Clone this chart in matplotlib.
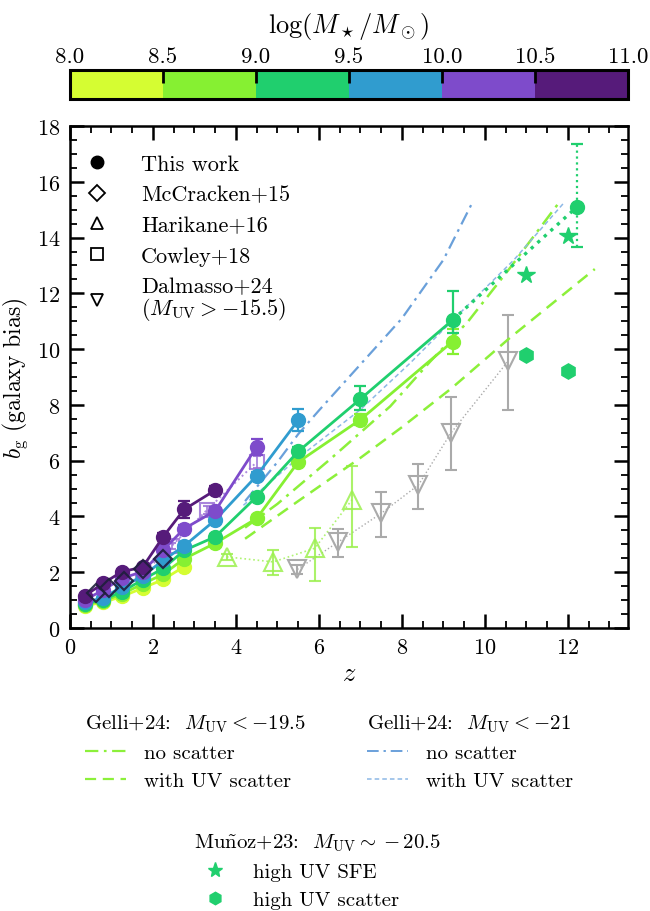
import matplotlib

matplotlib.use("Agg")
import matplotlib.pyplot as plt
import numpy as np
from matplotlib.colors import BoundaryNorm, ListedColormap
from matplotlib.lines import Line2D
from matplotlib.ticker import MultipleLocator
import matplotlib.colorbar as mcolorbar


# stellar-mass bins and their colours
MASS_EDGES = [8.0, 8.5, 9.0, 9.5, 10.0, 10.5, 11.0]
BIN_COLORS = ["#d5fd32", "#86f032", "#20cf6e", "#309ccf", "#7e4bcb", "#561b7a"]

# this work: bias per mass bin on a common redshift grid
Z_GRID = [0.35, 0.8, 1.25, 1.75, 2.25, 2.75, 3.5, 4.5, 5.5, 7.0, 9.22]
B_80 = [0.80, 0.92, 1.13, 1.43, 1.74, 2.20]
E_80 = [0.03, 0.03, 0.04, 0.05, 0.06, 0.08]
B_85 = [0.84, 0.97, 1.22, 1.58, 1.93, 2.48, 3.04, 3.93, 5.95, 7.47, 10.27]
E_85 = [0.03, 0.03, 0.04, 0.05, 0.06, 0.08, 0.10, 0.12, 0.15, 0.20, 0.45]
B_90 = [0.87, 1.02, 1.30, 1.73, 2.14, 2.78, 3.27, 4.71, 6.33, 8.21, 11.04]
E_90_LO = [0.03, 0.03, 0.04, 0.05, 0.06, 0.08, 0.10, 0.12, 0.15, 0.38, 0.45]
E_90_HI = [0.03, 0.03, 0.04, 0.05, 0.06, 0.08, 0.10, 0.12, 0.15, 0.48, 1.05]
B_95 = [0.92, 1.08, 1.48, 1.86, 2.43, 2.94, 3.87, 5.46, 7.45]
E_95 = [0.03, 0.04, 0.05, 0.06, 0.07, 0.09, 0.12, 0.15, 0.40]
B_100 = [1.00, 1.36, 1.78, 2.02, 2.80, 3.56, 4.20, 6.50]
E_100 = [0.04, 0.05, 0.06, 0.07, 0.09, 0.12, 0.15, 0.28]
B_105 = [1.15, 1.60, 2.02, 2.18, 3.28, 4.25, 4.94]
E_105 = [0.05, 0.06, 0.07, 0.08, 0.12, 0.32, 0.14]

# highest-redshift point of the 9.0-9.5 bin
Z_TOP = [9.22, 12.22]
B_TOP = [11.04, 15.10]
E_TOP_LO = 1.43
E_TOP_HI = 2.25

# literature measurements
Z_MCC = [0.63, 0.95, 1.30, 1.75, 2.25]
B_MCC = [1.24, 1.45, 1.69, 2.10, 2.46]

Z_HAR = [3.78, 4.90, 5.90, 6.80]
B_HAR = [2.55, 2.37, 2.86, 4.60]
E_HAR_LO = [0.10, 0.47, 1.18, 1.69]
E_HAR_HI = [0.10, 0.42, 0.71, 1.22]

Z_COW = [1.75, 2.45, 3.30, 4.50]
B_COW = [1.94, 2.94, 4.23, 5.95]
E_COW = [0.08, 0.10, 0.14, 0.20]

Z_DAL = [5.48, 6.47, 7.50, 8.40, 9.18, 10.56]
B_DAL = [2.10, 3.09, 4.11, 5.13, 6.99, 9.57]
E_DAL_LO = [0.15, 0.54, 0.84, 0.87, 1.34, 1.74]
E_DAL_HI = [0.15, 0.45, 0.77, 0.76, 1.30, 1.64]

# model predictions
Z_G195_NS = [4.22, 5.0, 6.27, 7.72, 8.68, 9.6, 10.6, 11.76]
B_G195_NS = [3.60, 4.45, 6.05, 7.95, 9.55, 11.0, 12.9, 15.2]
Z_G195_SC = [4.22, 5.5, 7.0, 8.0, 9.2, 10.6, 12.65]
B_G195_SC = [3.20, 4.55, 6.10, 7.20, 8.60, 10.40, 12.87]
Z_G21_NS = [4.22, 5.0, 5.5, 6.0, 7.0, 8.0, 9.0, 9.67]
B_G21_NS = [4.55, 5.95, 6.95, 7.80, 9.45, 11.10, 13.20, 15.17]
Z_G21_SC = [4.18, 5.5, 7.0, 8.2, 9.41, 10.7, 11.92]
B_G21_SC = [4.40, 6.10, 7.83, 9.50, 11.31, 13.20, 15.27]

Z_MUN = [11.0, 12.0]
B_MUN_SFE = [12.65, 14.05]
B_MUN_SCAT = [9.80, 9.20]

GREEN_MODEL = "#8cf03a"
BLUE_MODEL = "#6aa0da"
BLUE_LIGHT = "#8db8e6"
GREY = "#aaaaaa"
DASHDOT = (0, (6, 2.5, 1.2, 2.5))

plt.rcParams.update(
    {
        "font.family": "serif",
        "font.serif": ["cmr10", "DejaVu Serif"],
        "mathtext.fontset": "cm",
        "axes.formatter.use_mathtext": True,
        "font.size": 16,
        "axes.linewidth": 1.8,
    }
)

fig = plt.figure(figsize=(6.5, 9.12), dpi=100)
ax = fig.add_axes([70 / 650, 283 / 912, 558 / 650, 502 / 912])
cax = fig.add_axes([70 / 650, 812 / 912, 558 / 650, 29 / 912])

# colour bar
cmap = ListedColormap(BIN_COLORS)
norm = BoundaryNorm(MASS_EDGES, cmap.N)
cb = mcolorbar.ColorbarBase(cax, cmap=cmap, norm=norm, orientation="horizontal", ticks=MASS_EDGES)
cb.outline.set_linewidth(2.2)
cax.xaxis.set_ticks_position("top")
cax.xaxis.set_label_position("top")
cax.tick_params(axis="x", direction="in", length=9, width=2.0, labelsize=16.5, pad=3)
cax.set_xticklabels([f"{m:.1f}" for m in MASS_EDGES])
cax.set_xlabel(r"$\log(M_\star/M_\odot)$", fontsize=19, labelpad=10)

# this work
bins = [
    (B_80, E_80, E_80),
    (B_85, E_85, E_85),
    (B_90, E_90_LO, E_90_HI),
    (B_95, E_95, E_95),
    (B_100, E_100, E_100),
    (B_105, E_105, E_105),
]
for color, (b, lo, hi) in zip(BIN_COLORS, bins):
    z = Z_GRID[: len(b)]
    ax.errorbar(
        z, b, yerr=[lo, hi], color=color, marker="o", ms=10, lw=2.0,
        elinewidth=1.6, capsize=4, capthick=1.6, zorder=5,
    )
top = ax.errorbar(
    Z_TOP[1:], B_TOP[1:], yerr=[[E_TOP_LO], [E_TOP_HI]], color=BIN_COLORS[2], marker="o",
    ms=10, ls="none", elinewidth=1.6, capsize=4, capthick=1.6, zorder=5,
)
top[2][0].set_linestyle(":")
ax.plot(Z_TOP, B_TOP, color=BIN_COLORS[2], ls=":", lw=2.4, zorder=4)

# literature
ax.plot(Z_MCC, B_MCC, ls="none", marker="D", ms=9, mfc="none", mec="#1e1e3c", mew=1.6, alpha=0.9, zorder=6)

har_c = "#9cf050"
ax.plot(Z_HAR, B_HAR, color=har_c, ls=":", lw=1.2, alpha=0.8, zorder=3)
ax.errorbar(
    Z_HAR, B_HAR, yerr=[E_HAR_LO, E_HAR_HI], ls="none", marker="^", ms=13, mfc="none",
    mec=har_c, mew=1.5, color=har_c, elinewidth=1.5, capsize=4, capthick=1.5, alpha=0.85, zorder=3,
)

cow_c = "#9a6fd6"
ax.plot(Z_COW, B_COW, color=cow_c, ls=":", lw=1.4, alpha=0.8, zorder=4)
ax.errorbar(
    Z_COW, B_COW, yerr=E_COW, ls="none", marker="s", ms=10, mfc="none", mec=cow_c, mew=1.5,
    color=cow_c, elinewidth=1.3, capsize=3, alpha=0.85, zorder=4,
)

ax.plot(Z_DAL, B_DAL, color=GREY, ls=":", lw=1.0, zorder=2)
ax.errorbar(
    Z_DAL, B_DAL, yerr=[E_DAL_LO, E_DAL_HI], ls="none", marker="v", ms=13, mfc="none",
    mec=GREY, mew=1.5, color=GREY, elinewidth=1.5, capsize=4, capthick=1.5, zorder=2,
)

# models
ax.plot(Z_G195_NS, B_G195_NS, color=GREEN_MODEL, ls=DASHDOT, lw=1.8, zorder=3)
ax.plot(Z_G195_SC, B_G195_SC, color=GREEN_MODEL, ls=(0, (5, 3)), lw=1.8, zorder=3)
ax.plot(Z_G21_NS, B_G21_NS, color=BLUE_MODEL, ls=DASHDOT, lw=1.6, zorder=3)
ax.plot(Z_G21_SC, B_G21_SC, color=BLUE_LIGHT, ls=(0, (3, 2)), lw=1.1, zorder=3)

ax.plot(Z_MUN, B_MUN_SFE, ls="none", marker="*", ms=13, color=BIN_COLORS[2], zorder=5)
ax.plot(Z_MUN, B_MUN_SCAT, ls="none", marker="h", ms=11, color=BIN_COLORS[2], zorder=5)

ax.set_xlim(0, 13.45)
ax.set_ylim(0, 18)
ax.xaxis.set_major_locator(MultipleLocator(2))
ax.xaxis.set_minor_locator(MultipleLocator(0.5))
ax.yaxis.set_major_locator(MultipleLocator(2))
ax.yaxis.set_minor_locator(MultipleLocator(0.5))
ax.tick_params(which="both", direction="in", top=True, right=True, labelsize=16)
ax.tick_params(which="major", length=10, width=1.8, pad=7)
ax.tick_params(which="minor", length=5, width=1.3)
ax.set_xlabel(r"$z$", fontsize=19, labelpad=3)
ax.set_ylabel(r"$b_{\rm g}$ (galaxy bias)", fontsize=17, labelpad=5)

# marker-style legend inside the axes
k = "black"
style_handles = [
    Line2D([], [], ls="none", marker="o", ms=9, color=k),
    Line2D([], [], ls="none", marker="D", ms=8, mfc="none", mec=k, mew=1.3),
    Line2D([], [], ls="none", marker="^", ms=9, mfc="none", mec=k, mew=1.3),
    Line2D([], [], ls="none", marker="s", ms=8, mfc="none", mec=k, mew=1.3),
    Line2D([], [], ls="none", marker="v", ms=9, mfc="none", mec=k, mew=1.3),
]
style_labels = [
    "This work",
    "McCracken+15",
    "Harikane+16",
    "Cowley+18",
    "Dalmasso+24\n" + r"$(M_{\rm UV}>-15.5)$",
]
leg = ax.legend(
    style_handles, style_labels, loc="upper left", bbox_to_anchor=(0.0, 0.975), frameon=False,
    fontsize=16, handlelength=1.0, handletextpad=1.5, labelspacing=0.5, borderaxespad=0.3,
)
for t in leg.get_texts():
    t.set_linespacing(0.95)

# model legends below the axes
g195 = [
    Line2D([], [], color=GREEN_MODEL, ls=DASHDOT, lw=1.6),
    Line2D([], [], color=GREEN_MODEL, ls=(0, (5, 3)), lw=1.6),
]
g21 = [
    Line2D([], [], color=BLUE_MODEL, ls=DASHDOT, lw=1.4),
    Line2D([], [], color=BLUE_LIGHT, ls=(0, (3, 2)), lw=1.1),
]
model_labels = ["no scatter", "with UV scatter"]
leg_kw = dict(
    loc="upper left", frameon=False, fontsize=15, title_fontsize=15, handlelength=2.0,
    handletextpad=0.85, labelspacing=0.45, alignment="left",
)
fig.legend(g195, model_labels, title=r"Gelli+24:  $M_{\rm UV}<-19.5$",
           bbox_to_anchor=(66 / 650, 1 - 695 / 912), **leg_kw)
fig.legend(g21, model_labels, title=r"Gelli+24:  $M_{\rm UV}<-21$",
           bbox_to_anchor=(348 / 650, 1 - 695 / 912), **leg_kw)

mun = [
    Line2D([], [], ls="none", marker="*", ms=11, color=BIN_COLORS[2]),
    Line2D([], [], ls="none", marker="h", ms=9, color=BIN_COLORS[2]),
]
fig.legend(
    mun, ["high UV SFE", "high UV scatter"],
    title=r"Mu$\tilde{\rm n}$oz+23:  $M_{\rm UV}\sim-20.5$",
    bbox_to_anchor=(175 / 650, 1 - 814 / 912), **leg_kw,
)

fig.savefig("out.png", dpi=100, facecolor="white")
